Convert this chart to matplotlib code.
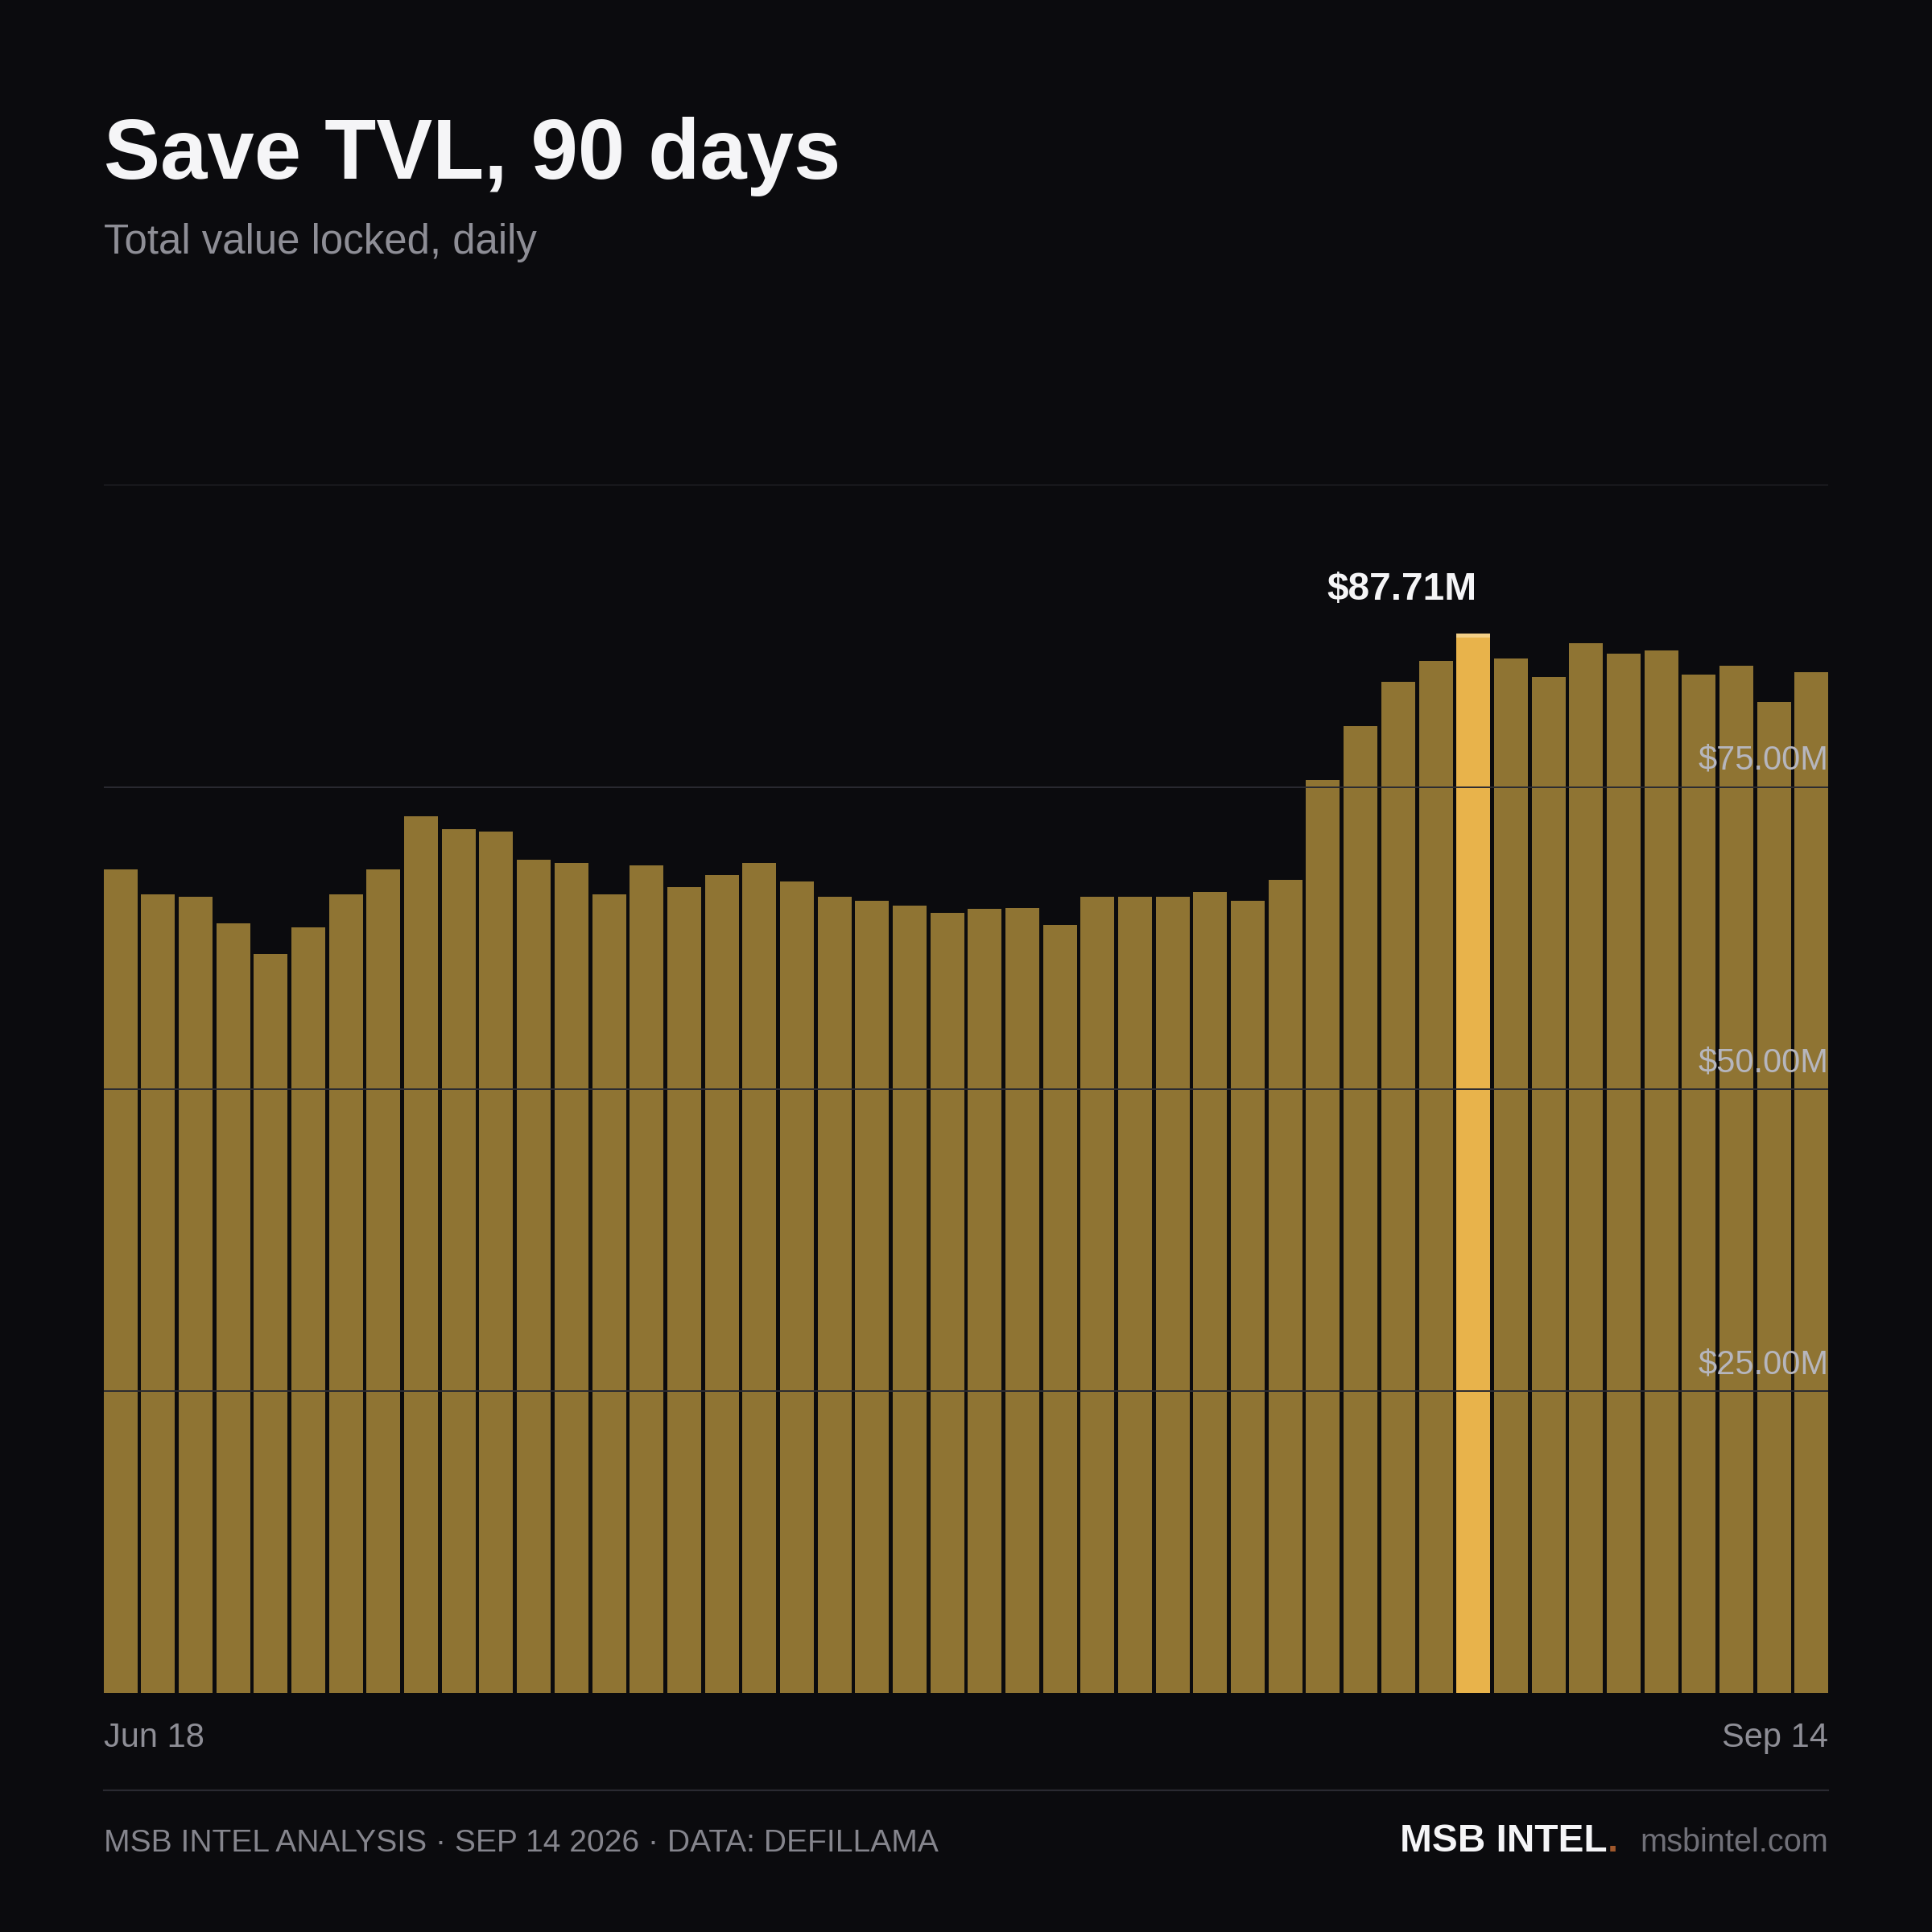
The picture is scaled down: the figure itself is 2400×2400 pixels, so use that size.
import numpy as np
import matplotlib
matplotlib.use('Agg')
import matplotlib.pyplot as plt
import matplotlib.transforms as mtransforms

plt.rcParams['font.family'] = ['Liberation Sans', 'DejaVu Sans']

# TVL in $M, one bar per sample, Jun 18 -> Sep 14
tvl = [68.2, 66.1, 65.9, 63.7, 61.2, 63.4, 66.1, 68.2, 72.6, 71.5,
       71.3, 69.0, 68.7, 66.1, 68.5, 66.7, 67.7, 68.7, 67.2, 65.9,
       65.6, 65.2, 64.6, 64.9, 65.0, 63.6, 65.9, 65.9, 65.9, 66.3,
       65.6, 67.3, 75.6, 80.0, 83.7, 85.4, 87.71, 85.6, 84.1, 86.9,
       86.0, 86.3, 84.3, 85.0, 82.0, 84.5]
grid_vals = [25, 50, 75, 100]
grid_labels = ['$25.00M', '$50.00M', '$75.00M', '']
first_label = 'Jun 18'
last_label = 'Sep 14'

BG = '#0b0b0e'
BAR = '#8f7433'
HI = '#e8b34b'
HI_CAP = '#f3cf86'
GRID = '#2a2a31'

fig = plt.figure(figsize=(24, 24), dpi=100, facecolor=BG)
ax = fig.add_axes([0.0536, 0.1238, 0.8928, 0.6252])
ax.set_facecolor(BG)

n = len(tvl)
x = np.arange(n)
w = 0.9
peak = int(np.argmax(tvl))
colors = [HI if i == peak else BAR for i in range(n)]
ax.bar(x, tvl, width=w, color=colors, zorder=2)
# lighter cap on the highlighted bar
ax.bar(x[peak], 0.35, bottom=tvl[peak] - 0.35, width=w, color=HI_CAP, zorder=3)

ax.set_xlim(-w / 2, n - 1 + w / 2)
ax.set_ylim(0, 100)
for s in ax.spines.values():
    s.set_visible(False)
ax.set_xticks([])
ax.set_yticks([])

trans = mtransforms.blended_transform_factory(ax.transAxes, ax.transData)
for v, lab in zip(grid_vals, grid_labels):
    ax.axhline(v, color=GRID, lw=1.4, zorder=4)
    if lab:
        ax.annotate(lab, xy=(1.0, v), xycoords=trans, xytext=(0, 15.5),
                    textcoords='offset points', ha='right', va='baseline',
                    fontsize=30, color='#b6b6be', zorder=5)

ax.annotate(f'${tvl[peak]:.2f}M', xy=(x[peak], tvl[peak]), xytext=(3, 30),
            textcoords='offset points', ha='right', va='baseline',
            fontsize=34.5, fontweight='bold', color='#f5f5f7', zorder=5)

# x labels at ends
fig.text(0.0536, 0.0958, first_label, ha='left', va='baseline', fontsize=30, color='#8e8e96')
fig.text(0.9464, 0.0958, last_label, ha='right', va='baseline', fontsize=30, color='#8e8e96')

# title block
fig.text(0.0536, 0.9076, 'Save TVL, 90 days', ha='left', va='baseline',
         fontsize=75.5, fontweight='bold', color='#f5f5f7')
fig.text(0.0536, 0.8687, 'Total value locked, daily', ha='left', va='baseline',
         fontsize=36.7, color='#8e8e96')

# footer
fig.add_artist(plt.Line2D([0.0536, 0.9464], [0.0733, 0.0733], color=GRID, lw=1.6,
                          transform=fig.transFigure))
fig.text(0.0536, 0.0415, 'MSB INTEL ANALYSIS \u00b7 SEP 14 2026 \u00b7 DATA: DEFILLAMA',
         ha='left', va='baseline', fontsize=28.1, color='#85858d')

renderer = fig.canvas.get_renderer()
site = fig.text(0.9464, 0.0415, 'msbintel.com', ha='right', va='baseline',
                fontsize=28.6, color='#707078')
bb = site.get_window_extent(renderer)
W, H = fig.get_size_inches() * fig.dpi
dot_x = (bb.x0 - 28) / W
dot = fig.text(dot_x, 0.0415, '.', ha='right', va='baseline', fontsize=34,
               fontweight='bold', color='#a0582c')
bb2 = dot.get_window_extent(renderer)
fig.text(bb2.x0 / W, 0.0415, 'MSB INTEL', ha='right', va='baseline', fontsize=34.4,
         fontweight='bold', color='#f5f5f7')

fig.savefig('out.png', dpi=100, facecolor=BG)
